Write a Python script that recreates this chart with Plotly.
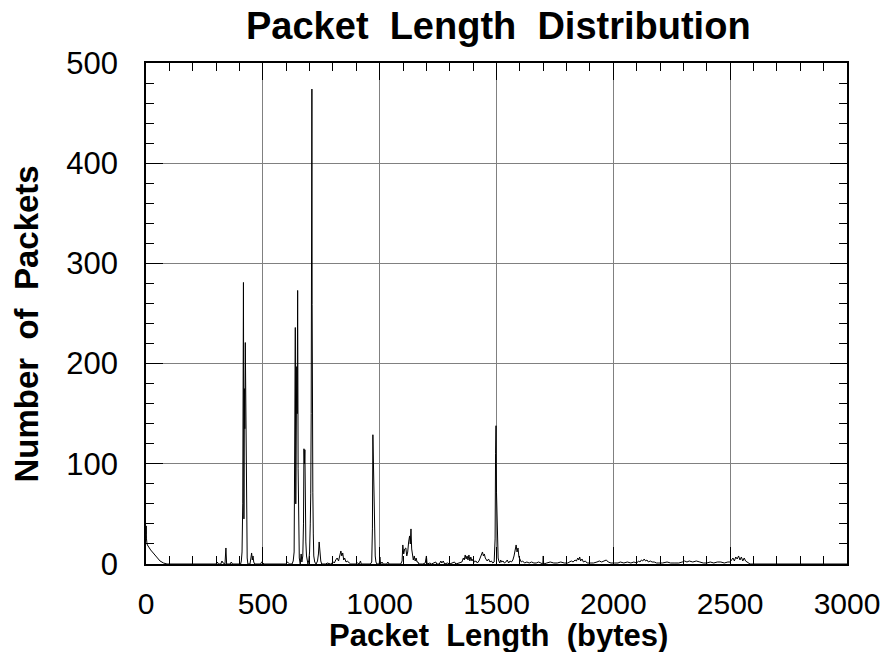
import plotly.graph_objects as go

# ---- data (packet length in bytes, number of packets) ----
lengths = [
    0, 1, 2, 4, 6, 20, 40, 60, 75, 90,
    200, 300, 305, 310, 320, 325, 330, 338, 342, 345, 360, 365, 370,
    405, 408, 411, 414, 417, 419, 421, 423, 425, 427, 429, 431, 433, 436,
    445, 449, 452, 455, 458, 461, 465,
    490, 495, 500, 505,
    600, 605, 610, 615, 625, 630, 634, 637, 639, 641, 643, 645, 647, 649, 651, 653, 656, 660,
    664, 667, 671, 674, 676, 678, 680, 682, 684, 687, 690, 693, 697, 700, 703, 705, 707, 709,
    710, 711, 712, 714, 716, 718, 722, 728, 734, 738, 741, 744, 748, 752,
    770, 775, 790, 802, 806, 812, 818, 824, 830, 834, 838, 842, 846, 850, 856, 862, 870, 876,
    900, 905, 912, 918, 921,
    960, 966, 969, 971, 973, 975, 977, 979, 981, 984, 988,
    998, 1001, 1004, 1010, 1015, 1030, 1035, 1040,
    1090, 1096, 1099, 1103, 1107, 1112, 1116, 1120, 1124, 1128, 1131, 1134, 1137, 1140, 1144,
    1148, 1152, 1156, 1160, 1164, 1168,
    1185, 1195, 1200, 1203, 1215, 1222, 1240, 1244, 1255, 1262, 1266, 1272, 1278, 1290, 1300,
    1320, 1326, 1340,
    1352, 1358, 1362, 1366, 1370, 1374, 1378, 1382, 1386, 1390, 1395, 1400, 1405, 1412, 1418,
    1425, 1430, 1436, 1440, 1444, 1448, 1452, 1456, 1460, 1466, 1472, 1478, 1484, 1490, 1494,
    1496, 1498, 1500, 1502, 1504, 1507, 1510, 1514, 1518, 1522, 1528, 1534, 1540, 1546, 1552,
    1558, 1564, 1570, 1575, 1580, 1584, 1588, 1592, 1596, 1600, 1606, 1612, 1620, 1630, 1640,
    1650, 1660, 1670, 1680, 1690, 1698, 1700, 1702,
    1715, 1730, 1745, 1760, 1775, 1790, 1805, 1820, 1828, 1836, 1842, 1848, 1852, 1856, 1860,
    1866, 1872, 1880, 1888, 1900, 1915, 1930, 1940, 1950, 1960, 1970, 1978, 1990, 2005, 2020,
    2030, 2045, 2060, 2075, 2088, 2100, 2108, 2114, 2120, 2126, 2132, 2138, 2144, 2150, 2158,
    2166, 2175, 2185, 2195, 2210, 2230, 2245, 2260, 2280, 2295, 2305, 2315, 2325, 2340, 2355,
    2370, 2385, 2400, 2415, 2430, 2445, 2460, 2475, 2490, 2500, 2506, 2512, 2518, 2524, 2530,
    2536, 2542, 2548, 2554, 2560, 2566, 2572, 2578, 2585, 3000,
]
counts = [
    30, 38, 25, 21, 19, 14, 8, 3, 1, 0,
    0, 0, 2, 0, 0, 3, 1, 0, 16, 0, 0, 2, 0,
    0, 3, 12, 60, 281, 45, 175, 135, 221, 155, 95, 30, 6, 0,
    0, 6, 11, 4, 8, 2, 0,
    0, 2, 1, 0,
    0, 2, 1, 0, 0, 3, 12, 160, 236, 60, 120, 197, 150, 273, 95, 25, 6, 0,
    10, 2, 8, 40, 115, 100, 114, 50, 22, 8, 2, 0, 4, 12, 40, 70, 150, 260,
    474, 259, 131, 71, 30, 8, 2, 0, 3, 10, 22, 9, 3, 0,
    0, 1, 0, 2, 1, 4, 6, 3, 9, 13, 8, 11, 4, 6, 2, 3, 1, 0,
    0, 1, 0, 3, 0,
    0, 2, 35, 129, 95, 77, 60, 31, 8, 2, 0,
    0, 7, 0, 2, 0, 0, 2, 0,
    0, 3, 19, 10, 15, 16, 8, 12, 22, 28, 20, 35, 15, 10, 4,
    8, 3, 6, 2, 2, 0,
    0, 1, 8, 0, 1, 0, 2, 0, 0, 3, 1, 3, 0, 1, 0,
    2, 0, 1,
    2, 6, 4, 9, 5, 8, 4, 9, 3, 7, 3, 5, 2, 3, 1,
    3, 6, 9, 12, 8, 10, 6, 4, 3, 5, 2, 3, 1, 2, 25,
    110, 138, 71, 49, 20, 6, 3, 1, 4, 2, 3, 1, 2, 4, 1,
    3, 2, 4, 8, 13, 19, 12, 16, 7, 4, 2, 3, 1, 2, 1,
    2, 1, 1, 2, 1, 0, 8, 0,
    1, 2, 1, 1, 2, 1, 1, 3, 2, 4, 3, 6, 4, 7, 3,
    5, 2, 3, 1, 1, 1, 2, 3, 2, 3, 4, 2, 1, 1, 1,
    2, 1, 2, 1, 2, 1, 3, 2, 4, 3, 5, 3, 4, 2, 3,
    2, 2, 1, 1, 1, 2, 1, 1, 1, 2, 3, 2, 3, 2, 3,
    2, 1, 1, 2, 1, 2, 2, 1, 2, 2, 4, 6, 3, 7, 5,
    8, 4, 7, 3, 6, 3, 2, 1, 0, 0,
]

x_tick_vals = [0, 500, 1000, 1500, 2000, 2500, 3000]
y_tick_vals = [0, 100, 200, 300, 400, 500]

title_text = "Packet\u00a0 Length\u00a0 Distribution"
x_title = "Packet\u00a0 Length\u00a0 (bytes)"
y_title = "Number\u00a0 of\u00a0 Packets"

FONT = "Liberation Sans, Arial, Helvetica, sans-serif"

fig = go.Figure()
fig.add_trace(go.Scatter(
    x=lengths, y=counts, mode="lines",
    line=dict(color="black", width=1),
    showlegend=False, hoverinfo="x+y",
))

axis_common = dict(
    showline=True, linecolor="black", linewidth=1.5,
    mirror="allticks",
    ticks="inside", ticklen=17, tickwidth=1, tickcolor="black",
    showgrid=True, gridcolor="#808080", gridwidth=1,
    zeroline=False,
)

fig.update_layout(
    width=892, height=652,
    margin=dict(l=146, r=39, t=63, b=88, pad=0),
    paper_bgcolor="white", plot_bgcolor="white",
    xaxis=dict(
        range=[0, 3000], tickvals=x_tick_vals,
        minor=dict(dtick=100, ticks="inside", ticklen=8, tickcolor="black", showgrid=False),
        ticklabelstandoff=12,
        tickfont=dict(family=FONT, size=30, color="black"),
        **axis_common,
    ),
    yaxis=dict(
        range=[0, 500], tickvals=y_tick_vals,
        minor=dict(dtick=20, ticks="inside", ticklen=8, tickcolor="black", showgrid=False),
        ticklabelstandoff=20,
        tickfont=dict(family=FONT, size=31, color="black"),
        **axis_common,
    ),
    annotations=[
        dict(text="<b>" + title_text + "</b>", xref="paper", yref="paper",
             x=0.5035, y=1.0729, xanchor="center", yanchor="middle", showarrow=False,
             font=dict(family=FONT, size=38, color="black")),
        dict(text="<b>" + x_title + "</b>", xref="paper", yref="paper",
             x=0.5028, y=-0.142, xanchor="center", yanchor="middle", showarrow=False,
             font=dict(family=FONT, size=31, color="black")),
        dict(text="<b>" + y_title + "</b>", xref="paper", yref="paper",
             x=-0.1711, y=0.478, xanchor="center", yanchor="middle", showarrow=False,
             textangle=-90,
             font=dict(family=FONT, size=33, color="black")),
    ],
)

fig.write_html("out.html")
